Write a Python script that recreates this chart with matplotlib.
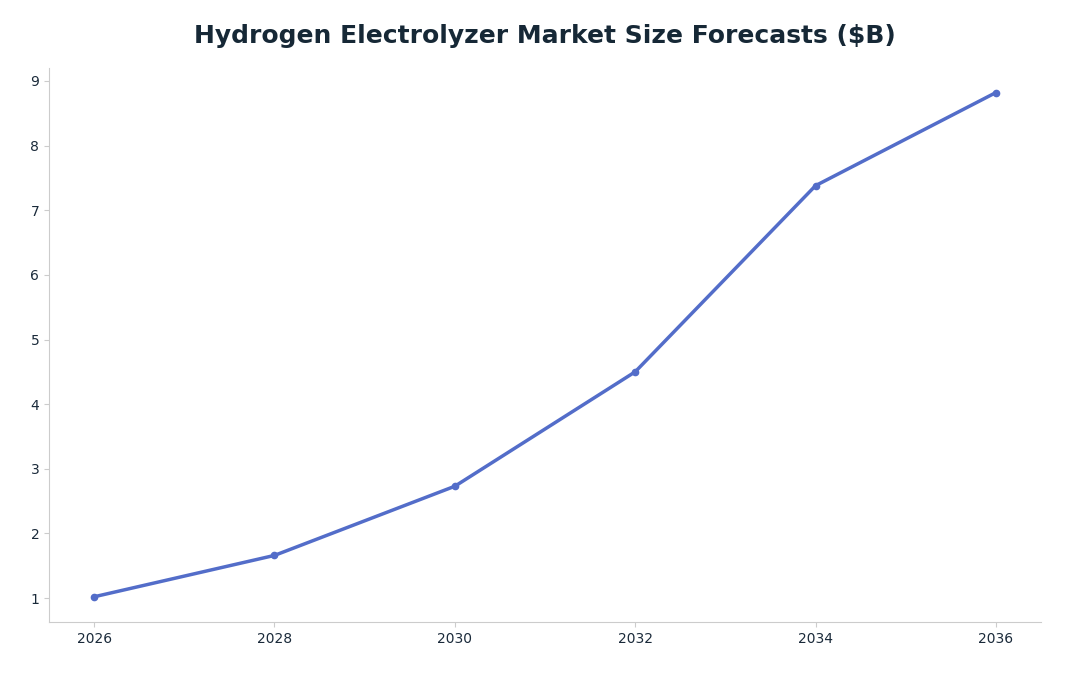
import matplotlib
matplotlib.use("Agg")
import matplotlib.pyplot as plt

years = [2026, 2028, 2030, 2032, 2034, 2036]
values = [1.02, 1.66, 2.73, 4.50, 7.38, 8.82]

fig = plt.figure(figsize=(10.7, 6.76), dpi=100)
ax = fig.add_axes([49/1070, 1-622/676, (1041-49)/1070, (622-68)/676])
ax.plot(years, values, color="#536dc9", linewidth=2.5, marker="o", markersize=4.5)
ax.set_xlim(2025.5, 2036.5)
ax.set_ylim(0.63, 9.2)
ax.set_xticks(years)
ax.set_yticks(range(1, 10))
for s in ["top", "right"]:
    ax.spines[s].set_visible(False)
for s in ["left", "bottom"]:
    ax.spines[s].set_color("#cccccc")
ax.tick_params(colors="#cccccc", labelcolor="#1a2a3a", labelsize=10)
fig.suptitle("Hydrogen Electrolyzer Market Size Forecasts ($B)", x=0.509, y=0.965,
             fontsize=18, fontweight="bold", color="#162836")
fig.savefig("out.png", dpi=100)
